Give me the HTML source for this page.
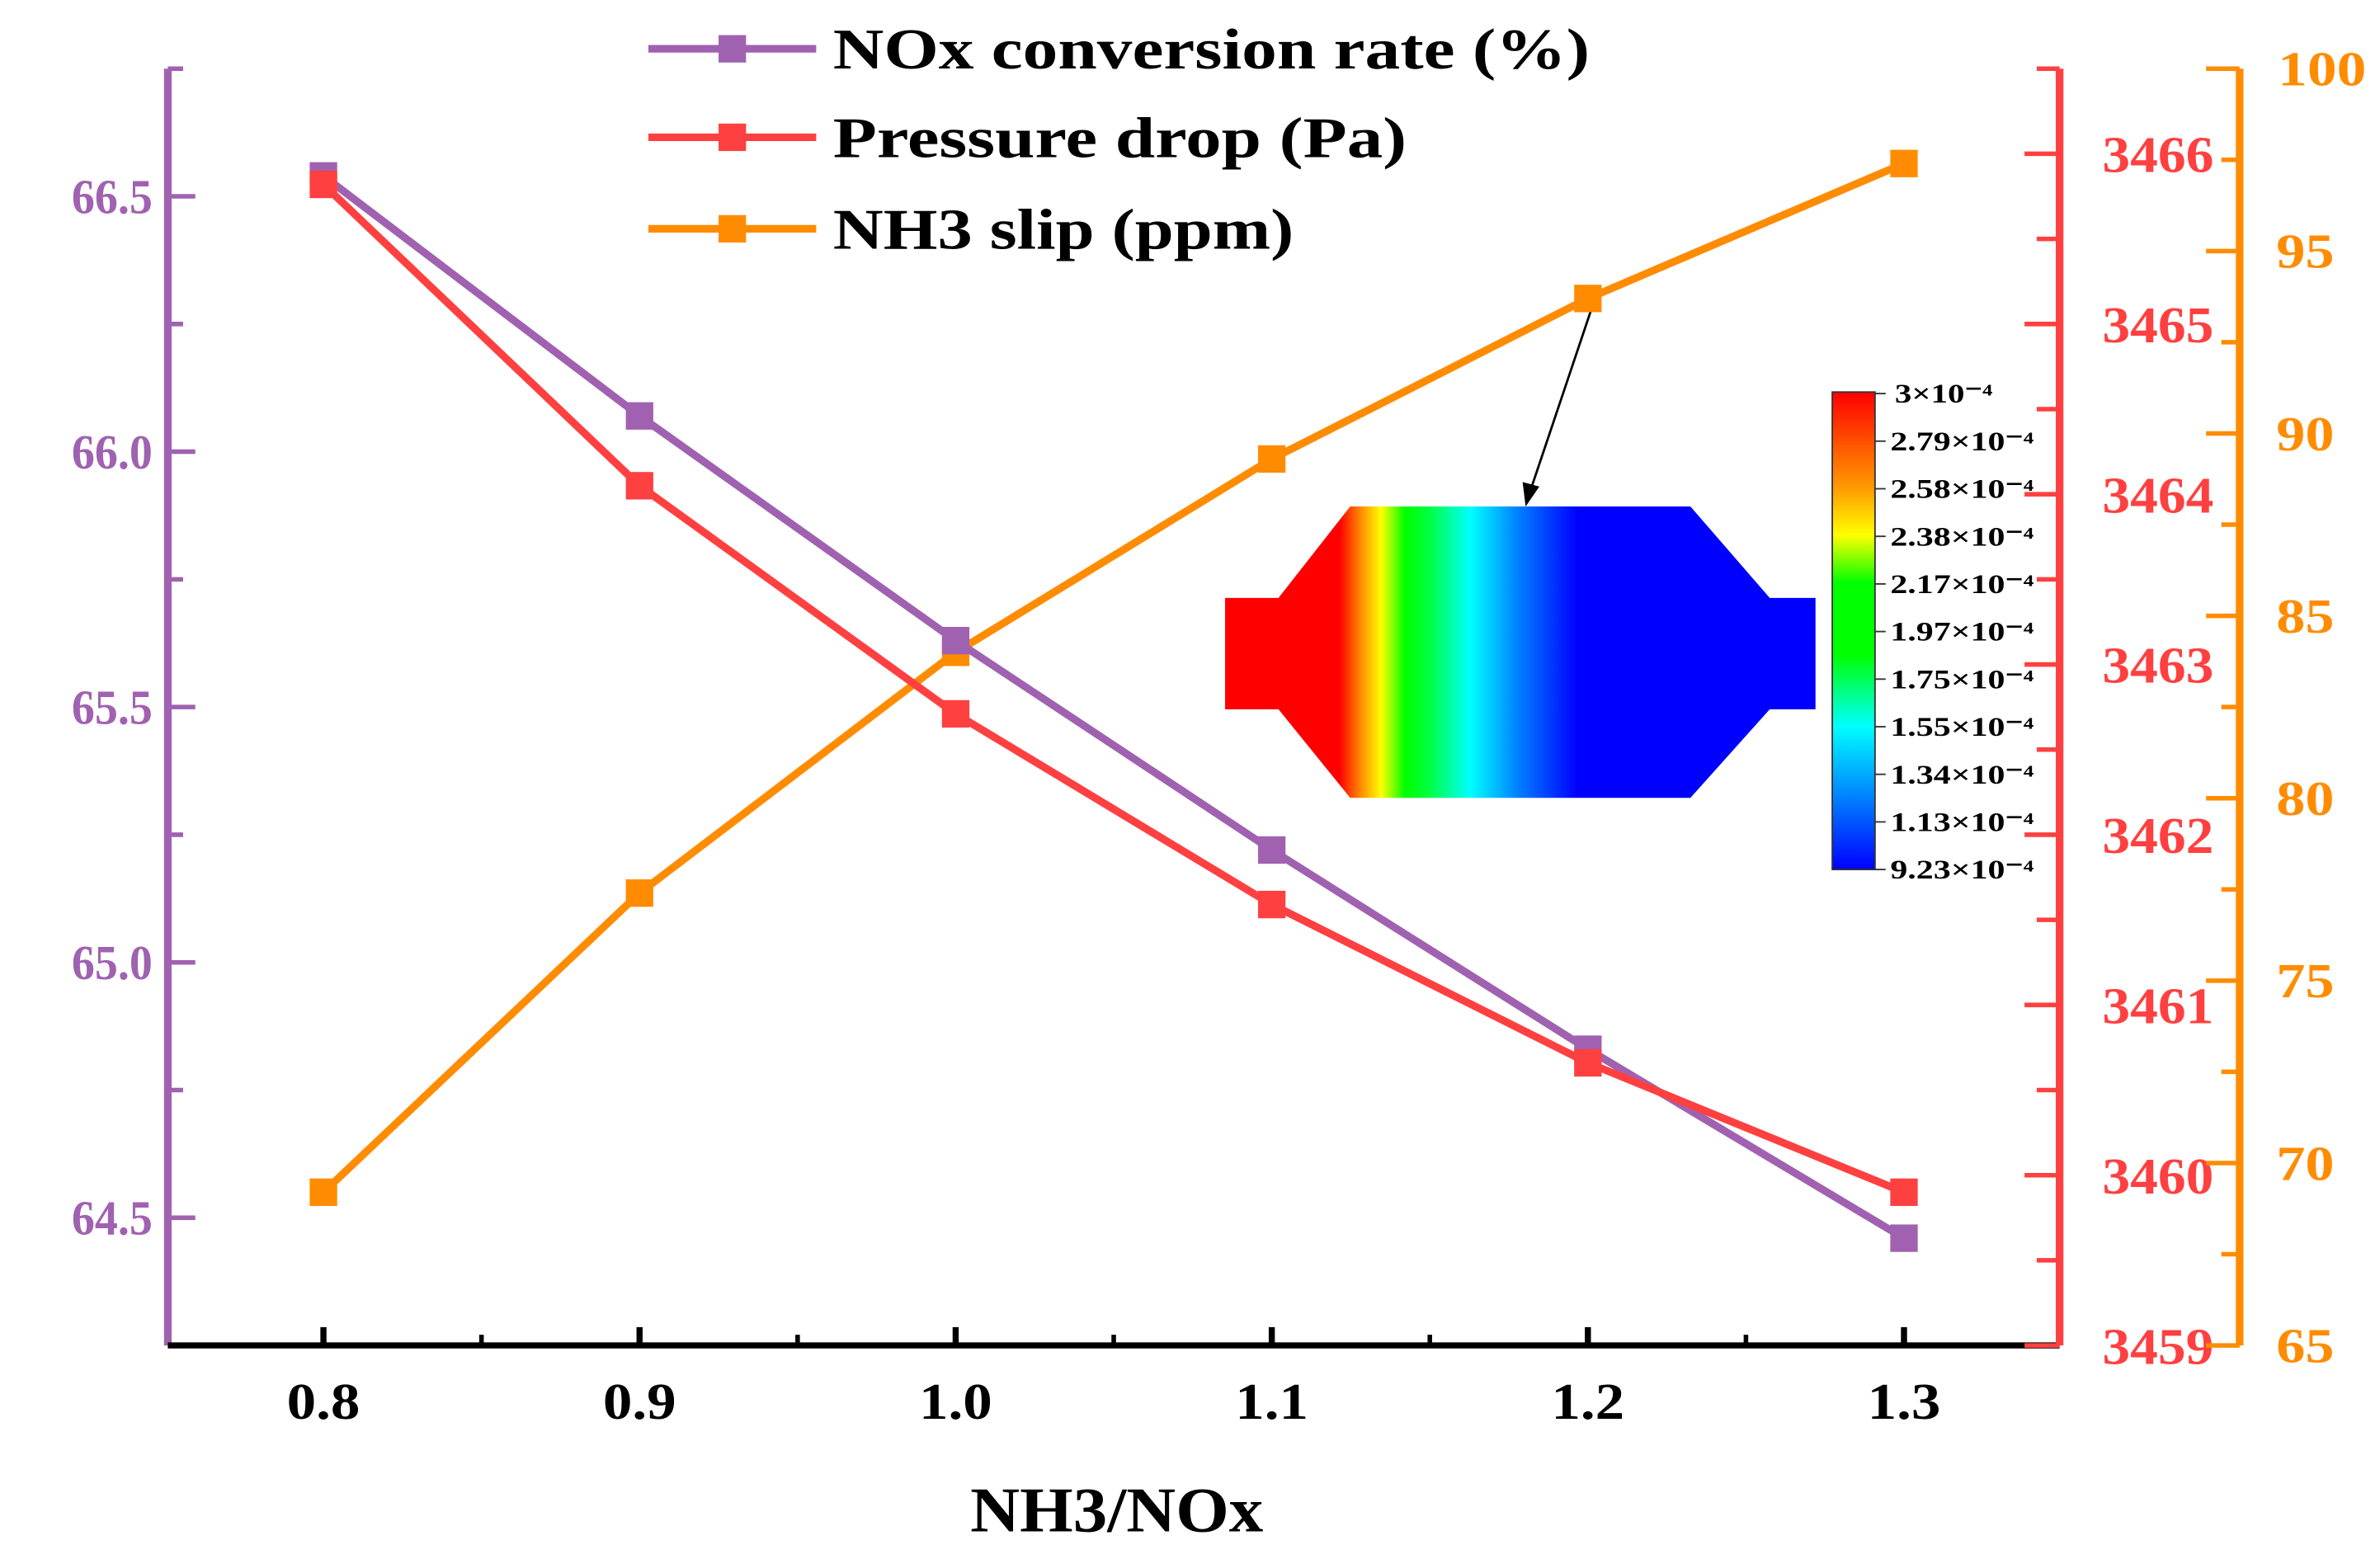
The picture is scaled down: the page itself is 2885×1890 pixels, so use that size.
<!DOCTYPE html>
<html><head><meta charset="utf-8"><style>
html,body{margin:0;padding:0;background:#fff;}
svg{display:block;}
text{font-family:"Liberation Serif",serif;font-weight:bold;}
</style></head><body>
<svg id="chart" width="2885" height="1890" viewBox="0 0 1560 1022" preserveAspectRatio="none" xmlns="http://www.w3.org/2000/svg">
<defs>
<linearGradient id="flow" x1="800" x2="1190" y1="0" y2="0" gradientUnits="userSpaceOnUse">
<stop offset="0.2" stop-color="#ff0000"/><stop offset="0.235" stop-color="#ff8800"/><stop offset="0.27" stop-color="#ffff00"/><stop offset="0.31" stop-color="#00ff00"/><stop offset="0.35" stop-color="#00ff40"/><stop offset="0.42" stop-color="#00ffff"/><stop offset="0.5" stop-color="#0080ff"/><stop offset="0.6" stop-color="#0000ff"/><stop offset="1" stop-color="#0000ff"/>
</linearGradient>
<linearGradient id="cbar" x1="0" x2="0" y1="0" y2="1">
<stop offset="0" stop-color="#ff0000"/><stop offset="0.2" stop-color="#ff9900"/><stop offset="0.3" stop-color="#ffff00"/><stop offset="0.4" stop-color="#00ff00"/><stop offset="0.55" stop-color="#00ff00"/><stop offset="0.7" stop-color="#00ffff"/><stop offset="0.85" stop-color="#0080ff"/><stop offset="1" stop-color="#0000ff"/>
</linearGradient>
</defs>
<g id="axes"></g>
<g id="inset">
<path d="M803,392 L838,392 L885,332 L1108,332 L1160,392 L1190,392 L1190,465 L1160,465 L1108,523 L885,523 L838,465 L803,465 Z" fill="url(#flow)"/>
<rect x="1201" y="257" width="28" height="313" fill="url(#cbar)" stroke="#333" stroke-width="1"/>
<line x1="1045" y1="197" x2="1003" y2="322" stroke="#000" stroke-width="1.5"/>
<polygon points="1000,332 998,316 1009,319" fill="#000"/>
</g>
<g id="series"></g>
<g id="legend"></g>
</svg>
<script>
const categories=[0.8,0.9,1.0,1.1,1.2,1.3];
const noxValues=[66.54,66.07,65.63,65.22,64.83,64.46];
const pressureValues=[3465.82,3464.05,3462.71,3461.59,3460.66,3459.90];
const slipValues=[69.2,77.4,84.0,89.3,93.7,97.4];
const leftTicks=[64.5,65.0,65.5,66.0,66.5];
const redTicks=[3459,3460,3461,3462,3463,3464,3465,3466];
const orangeTicks=[65,70,75,80,85,90,95,100];
const cbarLabels=["3×10⁻⁴","2.79×10⁻⁴","2.58×10⁻⁴","2.38×10⁻⁴","2.17×10⁻⁴","1.97×10⁻⁴","1.75×10⁻⁴","1.55×10⁻⁴","1.34×10⁻⁴","1.13×10⁻⁴","9.23×10⁻⁴"];

const NS="http://www.w3.org/2000/svg";
const TOP=45,BOT=882;
const X=v=>212+(v-0.8)*2072;
const YL=v=>TOP+(66.75-v)/2.5*(BOT-TOP);
const YR=v=>TOP+(3466.5-v)/7.5*(BOT-TOP);
const YO=v=>TOP+(100-v)/35*(BOT-TOP);
const PUR="#a062b0",RED="#ff4040",ORG="#ff8c00";
function el(tag,attrs,parent,txt){const e=document.createElementNS(NS,tag);for(const k in attrs)e.setAttribute(k,attrs[k]);if(txt!==undefined)e.textContent=txt;parent.appendChild(e);return e;}
const axes=document.getElementById('axes'),series=document.getElementById('series'),legend=document.getElementById('legend'),inset=document.getElementById('inset');

let a=el('line',{x1:110,y1:TOP,x2:110,y2:BOT,stroke:PUR,'stroke-width':5},axes);


for(let v=64.25;v<=66.76;v+=0.25){const y=YL(v);el('line',{x1:110,y1:y,x2:Math.abs((v*2)%1)<0.01?128:120,y2:y,stroke:PUR,'stroke-width':3},axes);}
leftTicks.forEach(v=>{const t=el('text',{x:100,y:YL(v)+11,'text-anchor':'end','font-size':32,fill:PUR,textLength:53,lengthAdjust:'spacingAndGlyphs'},axes,v.toFixed(1));

});
a=el('line',{x1:110,y1:BOT,x2:1350,y2:BOT,stroke:'#000','stroke-width':4},axes);


for(let v=0.75;v<=1.36;v+=0.05){const maj=Math.abs(Math.round(v*10)-v*10)<0.01;if(v<0.76||v>1.34)continue;el('line',{x1:X(v),y1:BOT,x2:X(v),y2:BOT-(maj?12:7),stroke:'#000','stroke-width':maj?4:3},axes);}
categories.forEach(c=>{const t=el('text',{x:X(c),y:930,'text-anchor':'middle','font-size':34,fill:'#000',textLength:48,lengthAdjust:'spacingAndGlyphs'},axes,c.toFixed(1));

});
const xt=el('text',{x:732,y:1004,'text-anchor':'middle','font-size':42,fill:'#000',textLength:192,lengthAdjust:'spacingAndGlyphs'},axes,'NH3/NOx');


a=el('line',{x1:1350,y1:TOP,x2:1350,y2:BOT,stroke:RED,'stroke-width':5},axes);


for(let v=3459;v<=3466.51;v+=0.5){const y=YR(v);const maj=Math.abs(v%1)<0.01;el('line',{x1:1350,y1:y,x2:maj?1327:1335,y2:y,stroke:RED,'stroke-width':3},axes);}
redTicks.forEach(v=>{const t=el('text',{x:1378,y:YR(v)+12,'font-size':34,fill:RED,textLength:73,lengthAdjust:'spacingAndGlyphs'},axes,String(v));

});
a=el('line',{x1:1468,y1:TOP,x2:1468,y2:BOT,stroke:ORG,'stroke-width':5},axes);


for(let v=65;v<=100.01;v+=2.5){const y=YO(v);const maj=Math.abs(v%5)<0.01;el('line',{x1:1468,y1:y,x2:maj?1446:1456,y2:y,stroke:ORG,'stroke-width':3},axes);}
orangeTicks.forEach(v=>{const t=el('text',{x:v===100?1493:1492,y:YO(v)+11,'font-size':32,fill:ORG,textLength:v===100?58:38,lengthAdjust:'spacingAndGlyphs'},axes,String(v));

});
cbarLabels.forEach((s,i)=>{const y=258+i*31.2;el('line',{x1:1229,y1:y,x2:1236,y2:y,stroke:'#333','stroke-width':1},inset);
const t=el('text',{x:i===0?1242:1239,y:y+6,'font-size':18,fill:'#000',textLength:i===0?64:94,lengthAdjust:'spacingAndGlyphs'},inset,s);

});
function draw(vals,Y,color,name){const pts=vals.map((v,i)=>X(categories[i])+','+Y(v)).join(' ');
const p=el('polyline',{points:pts,fill:'none',stroke:color,'stroke-width':5,'stroke-linejoin':'round'},series);


vals.forEach((v,i)=>{const r=el('rect',{x:X(categories[i])-9,y:Y(v)-9,width:18,height:18,fill:color},series);

});}
draw(slipValues,YO,ORG,'nh3-slip');
draw(noxValues,YL,PUR,'nox-conversion');
draw(pressureValues,YR,RED,'pressure-drop');
[["NOx conversion rate (%)",PUR,32,496],["Pressure drop (Pa)",RED,90,376],["NH3 slip (ppm)",ORG,150,302]].forEach(([lab,c,y,w])=>{
el('line',{x1:425,y1:y,x2:535,y2:y,stroke:c,'stroke-width':5},legend);
el('rect',{x:471,y:y-9,width:18,height:18,fill:c},legend);
const t=el('text',{x:546,y:y+13,'font-size':38,fill:'#000',textLength:w,lengthAdjust:'spacingAndGlyphs'},legend,lab);

});
</script>
</body></html>
